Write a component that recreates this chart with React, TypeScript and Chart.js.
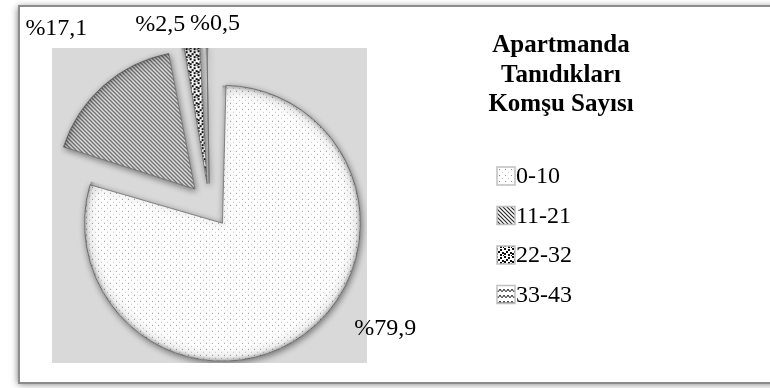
import React, { useEffect, useRef } from "react";
import { Chart, registerables } from "chart.js";

Chart.register(...registerables);

// Answers: how many neighbours in the building the respondent knows
const categories = ["0-10", "11-21", "22-32", "33-43"];
const shares = [79.9, 17.1, 2.5, 0.5];
const legendTitle = ["Apartmanda", "Tanıdıkları", "Komşu Sayısı"];

// Placement of each percentage label, polar from its (exploded) slice tip
const labelAngleDeg = [123, 319.2, 343.6, 2.1];
const labelDistance = [194, 212, 166, 160];

const PIE_RADIUS = 138;
const EXPLODE = 22; // px each slice is pulled away from the centre
const SERIF = "'Liberation Serif', 'Times New Roman', serif";

const pctText = (v: number) => "%" + v.toFixed(1).replace(".", ",");

function makePattern(w: number, h: number, draw: (g: CanvasRenderingContext2D) => void) {
  const c = document.createElement("canvas");
  c.width = w;
  c.height = h;
  const g = c.getContext("2d")!;
  g.fillStyle = "#ffffff";
  g.fillRect(0, 0, w, h);
  draw(g);
  const host = document.createElement("canvas").getContext("2d")!;
  return host.createPattern(c, "repeat")!;
}

function buildPatterns() {
  const dots = makePattern(6, 6, (g) => {
    g.fillStyle = "#8f8f8f";
    g.fillRect(1, 1, 1, 1);
    g.fillStyle = "#c4c4c4";
    g.fillRect(4, 4, 1, 1);
  });
  const stripes = makePattern(4, 4, (g) => {
    g.strokeStyle = "#2a2a2a";
    g.lineWidth = 1.2;
    g.beginPath();
    g.moveTo(-1, -1);
    g.lineTo(5, 5);
    g.moveTo(-1, 3);
    g.lineTo(1, 5);
    g.moveTo(3, -1);
    g.lineTo(5, 1);
    g.stroke();
  });
  const confetti = makePattern(8, 8, (g) => {
    g.fillStyle = "#111111";
    [[0, 0], [4, 1], [2, 3], [6, 4], [0, 5], [4, 6], [7, 7]].forEach(([x, y]) => g.fillRect(x, y, 2, 2));
  });
  const wave = makePattern(8, 6, (g) => {
    g.strokeStyle = "#222222";
    g.lineWidth = 1;
    g.beginPath();
    g.moveTo(0, 1);
    g.quadraticCurveTo(2, 6, 4, 1);
    g.quadraticCurveTo(6, 6, 8, 1);
    g.stroke();
  });
  return [dots, stripes, confetti, wave];
}

// Chart.js grows an offset arc's radius by offset/4 * (1 - sin(circumference));
// shrink the stored radius so every slice is drawn with the same radius.
function radiusFix(circumference: number) {
  return 1 - Math.sin(Math.min(Math.PI, circumference || 0));
}

const equalRadiusPlugin = {
  id: "equalRadius",
  afterDatasetsUpdate(chart: any) {
    chart.getDatasetMeta(0).data.forEach((arc: any) => {
      arc.outerRadius = PIE_RADIUS - EXPLODE * radiusFix(arc.circumference);
    });
  },
};

const framePlugin = {
  id: "frame",
  beforeDraw(chart: any) {
    const { ctx, width, height, chartArea } = chart;
    ctx.save();
    ctx.fillStyle = "#ffffff";
    ctx.fillRect(0, 0, width, height);
    ctx.shadowColor = "rgba(0,0,0,0.55)";
    ctx.shadowBlur = 7;
    ctx.shadowOffsetX = -1;
    ctx.shadowOffsetY = 1;
    ctx.fillRect(19, 6, 760, 377);
    ctx.shadowColor = "transparent";
    ctx.strokeStyle = "#8c8c8c";
    ctx.lineWidth = 2;
    ctx.strokeRect(19, 6, 760, 377);
    ctx.fillStyle = "#d9d9d9";
    ctx.fillRect(chartArea.left, chartArea.top, chartArea.right - chartArea.left, chartArea.bottom - chartArea.top);
    ctx.restore();
  },
};

const bevelPlugin = {
  id: "bevel",
  beforeDatasetsDraw(chart: any) {
    const ctx = chart.ctx;
    ctx.save();
    ctx.shadowColor = "rgba(0,0,0,0.45)";
    ctx.shadowBlur = 6;
    ctx.shadowOffsetX = 1;
    ctx.shadowOffsetY = 2;
  },
  afterDatasetsDraw(chart: any) {
    const ctx = chart.ctx;
    ctx.restore();
    const area = chart.chartArea;
    const meta = chart.getDatasetMeta(0);
    ctx.save();
    ctx.beginPath();
    ctx.rect(area.left, area.top, area.right - area.left, area.bottom - area.top);
    ctx.clip();
    meta.data.forEach((arc: any) => {
      const { x, y, startAngle, endAngle } = arc.getProps(["x", "y", "startAngle", "endAngle"], true);
      const r = PIE_RADIUS;
      const mid = (startAngle + endAngle) / 2;
      const cx = x + Math.cos(mid) * EXPLODE;
      const cy = y + Math.sin(mid) * EXPLODE;
      ctx.save();
      ctx.beginPath();
      ctx.moveTo(cx, cy);
      ctx.arc(cx, cy, r, startAngle, endAngle);
      ctx.closePath();
      ctx.clip();
      const g = ctx.createRadialGradient(cx, cy, r * 0.9, cx, cy, r);
      g.addColorStop(0, "rgba(0,0,0,0)");
      g.addColorStop(0.7, "rgba(0,0,0,0.07)");
      g.addColorStop(1, "rgba(0,0,0,0.3)");
      ctx.fillStyle = g;
      ctx.fillRect(cx - r, cy - r, r * 2, r * 2);
      ctx.restore();
    });
    ctx.restore();
  },
};

const valueLabelPlugin = {
  id: "valueLabels",
  afterDraw(chart: any) {
    const ctx = chart.ctx;
    const meta = chart.getDatasetMeta(0);
    const values = chart.data.datasets[0].data as number[];
    ctx.save();
    ctx.font = `24px ${SERIF}`;
    ctx.fillStyle = "#000000";
    ctx.textAlign = "center";
    ctx.textBaseline = "middle";
    meta.data.forEach((arc: any, i: number) => {
      const { x, y, startAngle, endAngle } = arc.getProps(["x", "y", "startAngle", "endAngle"], true);
      const mid = (startAngle + endAngle) / 2;
      const tipX = x + Math.cos(mid) * EXPLODE;
      const tipY = y + Math.sin(mid) * EXPLODE;
      const a = (labelAngleDeg[i] * Math.PI) / 180;
      ctx.fillText(pctText(values[i]), tipX + Math.sin(a) * labelDistance[i], tipY - Math.cos(a) * labelDistance[i]);
    });
    ctx.restore();
  },
};

const legendPlugin = {
  id: "sideLegend",
  afterDraw(chart: any) {
    const ctx = chart.ctx;
    const ds = chart.data.datasets[0];
    const labels = chart.data.labels as string[];
    ctx.save();
    ctx.fillStyle = "#000000";
    ctx.textBaseline = "middle";
    ctx.textAlign = "center";
    ctx.font = `bold 25px ${SERIF}`;
    legendTitle.forEach((line, i) => ctx.fillText(line, 561, 46 + i * 29.5));
    ctx.textAlign = "left";
    ctx.font = `24px ${SERIF}`;
    labels.forEach((lab, i) => {
      const cy = 176 + i * 39.5;
      ctx.fillStyle = ds.backgroundColor[i];
      ctx.fillRect(497, cy - 9, 18, 18);
      ctx.strokeStyle = "#c0c0c0";
      ctx.lineWidth = 1.5;
      ctx.strokeRect(497, cy - 9, 18, 18);
      ctx.fillStyle = "#000000";
      ctx.fillText(lab, 516, cy + 1);
    });
    ctx.restore();
  },
};

export default function App() {
  const ref = useRef<HTMLCanvasElement>(null);

  useEffect(() => {
    const canvas = ref.current;
    if (!canvas) return;
    const patterns = buildPatterns();
    const chart = new Chart(canvas, {
      type: "pie",
      data: {
        labels: categories,
        datasets: [
          {
            data: shares,
            backgroundColor: patterns as any,
            borderColor: "#6f6f6f",
            borderWidth: 0.8,
            // offset/4 is the distance each slice is moved along its bisector
            offset: EXPLODE * 4,
            clip: 0 as any,
          },
        ],
      },
      options: {
        responsive: false,
        animation: false,
        events: [],
        radius: PIE_RADIUS,
        layout: { padding: { left: 52, top: 48, right: 403, bottom: 25 } },
        plugins: {
          legend: { display: false },
          tooltip: { enabled: false },
        },
      } as any,
      plugins: [equalRadiusPlugin, framePlugin, bevelPlugin, valueLabelPlugin, legendPlugin],
    });
    return () => chart.destroy();
  }, []);

  return (
    <div style={{ position: "fixed", left: 0, top: 0, width: 770, height: 388 }}>
      <canvas ref={ref} width={770} height={388} style={{ display: "block", width: 770, height: 388 }} />
    </div>
  );
}
